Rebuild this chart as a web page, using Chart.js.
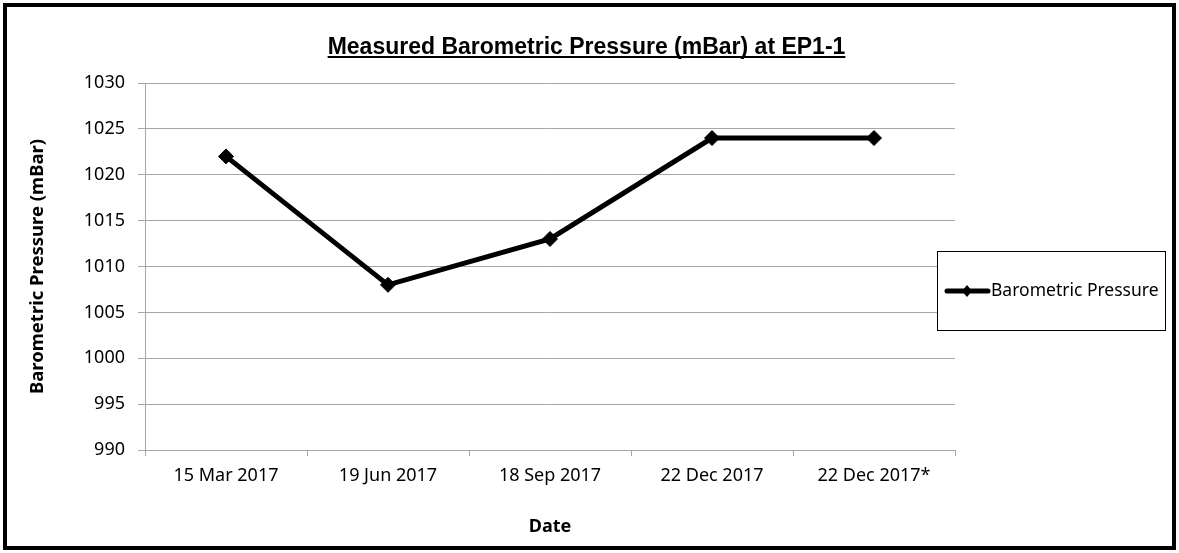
<!DOCTYPE html>
<html>
<head>
<meta charset="utf-8">
<script src="https://cdn.jsdelivr.net/npm/chart.js@4"></script>
<style>
  html, body { margin: 0; padding: 0; background: #fff; }
  #wrap { width: 1179px; height: 553px; }
</style>
</head>
<body>
<div id="wrap"><canvas id="myChart" width="1179" height="553"></canvas></div>
<script>
var dates = ["15 Mar 2017", "19 Jun 2017", "18 Sep 2017", "22 Dec 2017", "22 Dec 2017*"];
var pressure = [1022, 1008, 1013, 1024, 1024];
var seriesName = "Barometric Pressure";
var chartTitle = "Measured Barometric Pressure (mBar) at EP1-1";

var BODY = "'Noto Sans', sans-serif";
var GRID = "#a6a6a6";

// border, underlined title and boxed legend, drawn over the chart
var frame = {
  id: "frame",
  afterDraw: function (chart) {
    var c = chart.ctx;
    c.save();
    c.strokeStyle = "#000";
    c.lineWidth = 4;
    c.strokeRect(5, 5, chart.width - 10, chart.height - 10);

    // title
    c.font = "bold 23px 'Liberation Sans', Arial, sans-serif";
    c.fillStyle = "#000";
    c.textAlign = "center";
    c.textBaseline = "alphabetic";
    var tx = chart.width / 2 - 3;
    var ty = 54;
    c.fillText(chartTitle, tx, ty);
    var w = c.measureText(chartTitle).width;
    c.lineWidth = 2;
    c.beginPath();
    c.moveTo(tx - w / 2, ty + 3);
    c.lineTo(tx + w / 2, ty + 3);
    c.stroke();

    // legend
    var ds = chart.data.datasets[0];
    c.fillStyle = "#fff";
    c.fillRect(937, 251, 228, 79);
    c.strokeStyle = "#000";
    c.lineWidth = 1;
    c.strokeRect(937.5, 251.5, 228, 79);
    c.strokeStyle = ds.borderColor;
    c.lineWidth = 5;
    c.lineCap = "round";
    c.beginPath();
    c.moveTo(947, 291);
    c.lineTo(988, 291);
    c.stroke();
    c.fillStyle = ds.borderColor;
    c.beginPath();
    c.moveTo(967, 285);
    c.lineTo(972, 291);
    c.lineTo(967, 297);
    c.lineTo(962, 291);
    c.closePath();
    c.fill();
    c.font = "17.5px " + BODY;
    c.textAlign = "left";
    c.textBaseline = "middle";
    c.fillText(ds.label, 991, 291);
    c.restore();
  }
};

var ctx = document.getElementById("myChart");
var myChart = new Chart(ctx, {
  type: "line",
  data: {
    labels: dates,
    datasets: [
      {
        label: seriesName,
        data: pressure,
        borderColor: "#000",
        backgroundColor: "#000",
        borderWidth: 5,
        tension: 0,
        pointStyle: "rectRot",
        pointRadius: 7.5,
        pointBorderWidth: 1,
        pointHoverRadius: 7.5,
      },
    ],
  },
  options: {
    responsive: false,
    animation: false,
    layout: {
      padding: { left: 20, right: 224, top: 83, bottom: 15 },
    },
    plugins: {
      legend: { display: false },
      title: { display: false },
      tooltip: { enabled: false },
    },
    scales: {
      x: {
        offset: true,
        grid: {
          offset: true,
          drawOnChartArea: false,
          drawTicks: true,
          tickLength: 6,
          color: GRID,
        },
        border: { color: GRID },
        ticks: {
          color: "#000",
          padding: 9,
          maxRotation: 0,
          font: { family: BODY, size: 18 },
        },
        title: {
          display: true,
          text: "Date",
          color: "#000",
          padding: { top: 0, bottom: 0 },
          font: { family: BODY, size: 18, weight: "bold" },
        },
        afterFit: function (scale) {
          scale.height = 88;
        },
      },
      y: {
        min: 990,
        max: 1030,
        ticks: {
          stepSize: 5,
          color: "#000",
          padding: 13,
          font: { family: BODY, size: 18 },
          callback: function (v) {
            return String(v);
          },
        },
        grid: {
          color: GRID,
          tickLength: 7,
        },
        border: { color: GRID },
        title: {
          display: true,
          text: "Barometric Pressure (mBar)",
          color: "#000",
          padding: { top: 7, bottom: 0 },
          font: { family: BODY, size: 18.5, weight: "bold" },
        },
        afterFit: function (scale) {
          scale.width = 125;
        },
      },
    },
  },
  plugins: [frame],
});
</script>
</body>
</html>
